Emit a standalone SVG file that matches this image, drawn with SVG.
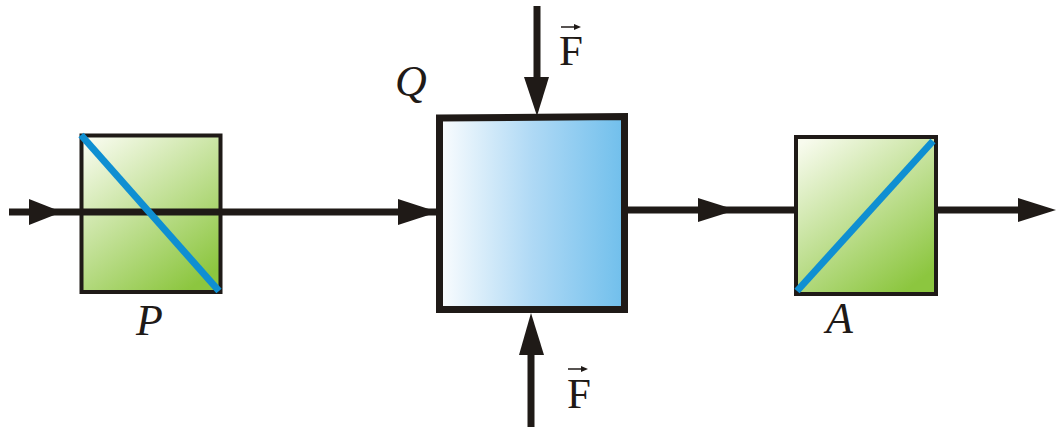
<svg xmlns="http://www.w3.org/2000/svg" width="1056" height="429" viewBox="0 0 1056 429">
<style>
.box{stroke:#1f1a17;stroke-width:4}
.line{stroke:#1f1a17;stroke-width:7;fill:none}
.head{fill:#1f1a17}
.blue{stroke:#0f8fd2;stroke-width:7;stroke-linecap:butt}
.it{font-family:"Liberation Serif",serif;font-style:italic;font-size:44px;fill:#1f1a17}
.f{font-family:"Liberation Serif",serif;font-size:43px;fill:#1f1a17}
.vec{stroke:#1f1a17;stroke-width:1.5}
</style>
<defs>
<linearGradient id="g" x1="0.1" y1="0" x2="0.75" y2="1"><stop offset="0" stop-color="#f8fbee"/><stop offset="1" stop-color="#8cc63f"/></linearGradient>
<linearGradient id="b" x1="0" y1="0" x2="1" y2="0"><stop offset="0" stop-color="#fbfdfe"/><stop offset="0.5" stop-color="#afd9f5"/><stop offset="1" stop-color="#70bfec"/></linearGradient>
</defs>
<g id="P">
<rect class="box" x="81.500" y="135.500" width="139" height="156.500" fill="url(#g)"/>
</g>
<g id="A">
<rect class="box" x="796" y="137" width="140" height="157" fill="url(#g)"/>
<line class="blue" x1="797" y1="291" x2="933" y2="141"/>
<text class="it" x="826" y="333">A</text>
</g>
<g id="Q">
<path d="M439.500 118 L624.500 116.500 L624.500 309.500 L439.500 309.500 Z" fill="url(#b)" stroke="#1f1a17" stroke-width="7"/>
<text class="it" x="395" y="96">Q</text>
</g>
<g id="connectors">
<path class="line" d="M9 212H437"/>
<polygon class="head" points="29,199 62,212 29,225"/>
<polygon class="head" points="398,199 438,212 398,225"/>
<path class="line" d="M628 210H795"/>
<polygon class="head" points="698,198 736,210 698,222"/>
<path class="line" d="M937 210H1020"/>
<polygon class="head" points="1018,198 1056,210 1018,222"/>
<path class="line" d="M537 6V80"/>
<polygon class="head" points="524,77 549,77 537,116"/>
<path class="line" d="M531 352V427"/>
<polygon class="head" points="519,355 544,355 531,313"/>
</g>
<g id="P-mark">
<line class="blue" x1="81" y1="135" x2="219" y2="291"/>
<text class="it" x="136" y="335">P</text>
</g>
<g id="force-top">
<text class="f" x="559" y="65">F</text>
<path class="vec" d="M561 27H576"/><polygon class="head" points="574,24 581,27 574,30"/>
</g>
<g id="force-bottom">
<text class="f" x="567" y="408">F</text>
<path class="vec" d="M568 369H583"/><polygon class="head" points="581,366 588,369 581,372"/>
</g>
</svg>
